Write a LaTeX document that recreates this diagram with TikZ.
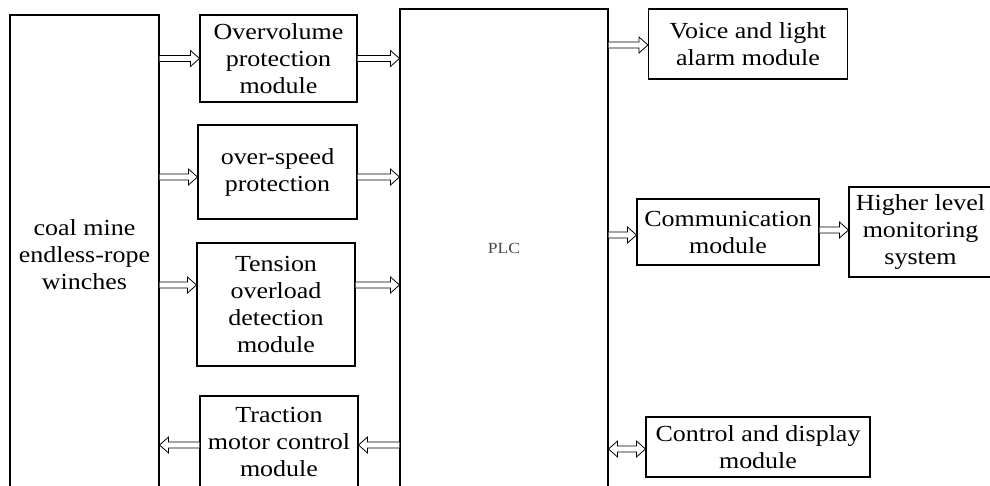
\documentclass[tikz,border=0pt]{standalone}
\usepackage{fontspec}
\setmainfont{Liberation Serif}[FakeStretch=1.13]
\usetikzlibrary{calc}

% hollow block arrow from #1 to #2 (horizontal), head at #2
\newcommand\blockarrow[2]{%
  \draw[arrowline] let \p1=(#1), \p2=(#2), \n1={(\x2-\x1)/abs(\x2-\x1)} in
    (\x1,\y1+3pt) -- (\x2-\n1*9pt,\y1+3pt) -- (\x2-\n1*9pt,\y1+8pt) -- (\x2,\y1)
    -- (\x2-\n1*9pt,\y1-8pt) -- (\x2-\n1*9pt,\y1-3pt) -- (\x1,\y1-3pt);}
% hollow block arrow with heads at both ends
\newcommand\dblblockarrow[2]{%
  \draw[arrowline] let \p1=(#1), \p2=(#2), \n1={(\x2-\x1)/abs(\x2-\x1)} in
    (\x1,\y1) -- (\x1+\n1*9pt,\y1+8pt) -- (\x1+\n1*9pt,\y1+3pt)
    -- (\x2-\n1*9pt,\y1+3pt) -- (\x2-\n1*9pt,\y1+8pt) -- (\x2,\y1)
    -- (\x2-\n1*9pt,\y1-8pt) -- (\x2-\n1*9pt,\y1-3pt)
    -- (\x1+\n1*9pt,\y1-3pt) -- (\x1+\n1*9pt,\y1-8pt) -- cycle;}

\tikzset{
  blk/.style={draw, line width=1.1pt, inner sep=0pt, align=center,
    font=\fontsize{23}{27}\selectfont},
  arrowline/.style={draw, line width=0.8pt, fill=white, line join=miter},
}

\begin{document}
\begin{tikzpicture}[x=1pt, y=-1pt]
  \useasboundingbox (0,0) rectangle (990,485);
  \clip (0,0) rectangle (990,485);

  % main blocks
  \node[blk, minimum width=149pt, minimum height=480pt] (win) at (84.5,255)
    {coal mine\\endless-rope\\winches};
  \node[blk, minimum width=208pt, minimum height=478pt, font=\fontsize{15.5}{18}\selectfont,
    text=black!72] (plc) at (504,248) {PLC};

  % input modules
  \node[blk, minimum width=157pt, minimum height=87pt] (ovp) at (278.5,58.5)
    {Overvolume\\protection\\module};
  \node[blk, minimum width=159pt, minimum height=94pt] (osp) at (277.5,172)
    {over-speed\\protection};
  \node[blk, minimum width=158pt, minimum height=123pt] (ten) at (276,304.5)
    {Tension\\overload\\detection\\module};
  \node[blk, minimum width=158pt, minimum height=92pt] (tra) at (279,442)
    {Traction\\motor control\\module};

  % output modules
  \node[blk, minimum width=199pt, minimum height=70pt] (alm) at (748,44)
    {Voice and light\\alarm module};
  \node[blk, minimum width=182pt, minimum height=66pt] (com) at (728,232)
    {Communication\\module};
  \node[blk, minimum width=143pt, minimum height=90pt] (hlm) at (920.5,232)
    {Higher level\\monitoring\\system};
  \node[blk, minimum width=224pt, minimum height=60pt] (cdm) at (758,447)
    {Control and display\\module};

  % connectors
  \blockarrow{win.east |- ovp.west}{ovp.west}
  \blockarrow{ovp.east}{plc.west |- ovp.east}
  \blockarrow{[yshift=-5pt]win.east |- osp.west}{[yshift=-5pt]osp.west}
  \blockarrow{[yshift=-5pt]osp.east}{[yshift=-5pt]plc.west |- osp.east}
  \blockarrow{[yshift=19.5pt]win.east |- ten.west}{[yshift=19.5pt]ten.west}
  \blockarrow{[yshift=19.5pt]ten.east}{[yshift=19.5pt]plc.west |- ten.east}
  \blockarrow{[yshift=-3pt]plc.west |- tra.east}{[yshift=-3pt]tra.east}
  \blockarrow{[yshift=-3pt]tra.west}{[yshift=-3pt]win.east |- tra.west}
  \blockarrow{[yshift=-1pt]plc.east |- alm.west}{[yshift=-1pt]alm.west}
  \blockarrow{[yshift=-3pt]plc.east |- com.west}{[yshift=-3pt]com.west}
  \blockarrow{[yshift=2pt]com.east}{[yshift=2pt]hlm.west}
  \dblblockarrow{[yshift=-2pt]plc.east |- cdm.west}{[yshift=-2pt]cdm.west}
\end{tikzpicture}
\end{document}
